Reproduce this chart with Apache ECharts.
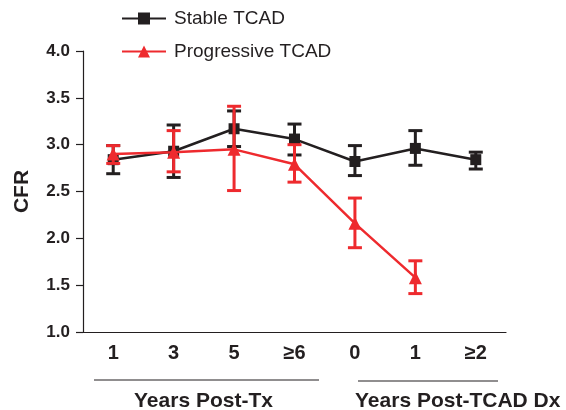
<!DOCTYPE html>
<html><head><meta charset="utf-8">
<script src="https://cdn.jsdelivr.net/npm/echarts@6/dist/echarts.min.js"></script>
<style>html,body{margin:0;padding:0;background:#fff}#c{width:566px;height:410px}</style>
</head><body><div id="c"></div>
<script>
const categories = ['1', '3', '5', '≥6', '0', '1', '≥2'];
const yTicks = [1.0, 1.5, 2.0, 2.5, 3.0, 3.5, 4.0];
const stableMean = [2.84, 2.93, 3.17, 3.06, 2.82, 2.96, 2.84];
const stableLow  = [2.69, 2.65, 2.98, 2.89, 2.67, 2.78, 2.74];
const stableHigh = [2.99, 3.21, 3.36, 3.22, 2.99, 3.15, 2.92];
const progMean = [2.90, 2.92, 2.95, 2.79, 2.16, 1.58, null];
const progLow  = [2.80, 2.71, 2.51, 2.60, 1.90, 1.41, null];
const progHigh = [2.99, 3.15, 3.41, 3.00, 2.43, 1.76, null];
const groupTitles = ['Years Post-Tx', 'Years Post-TCAD Dx'];

const BLACK = '#231f20', RED = '#ee2a2e';
const FONT = 'Liberation Sans, Arial, Helvetica, sans-serif';

function errData(low, high) {
  const out = [];
  for (let i = 0; i < low.length; i++) if (low[i] != null) out.push([i, low[i], high[i]]);
  return out;
}
function errSeries(name, low, high, color, z) {
  return {
    type: 'custom', name: name + ' err', z: z, silent: true,
    data: errData(low, high),
    encode: { x: 0, y: [1, 2] },
    renderItem: function (params, api) {
      const x = api.value(0);
      const lo = api.coord([x, api.value(1)]);
      const hi = api.coord([x, api.value(2)]);
      const w = 7;
      const st = { stroke: color, lineWidth: 3 };
      return { type: 'group', children: [
        { type: 'line', shape: { x1: lo[0], y1: lo[1], x2: hi[0], y2: hi[1] }, style: st },
        { type: 'line', shape: { x1: lo[0] - w, y1: lo[1], x2: lo[0] + w, y2: lo[1] }, style: st },
        { type: 'line', shape: { x1: hi[0] - w, y1: hi[1], x2: hi[0] + w, y2: hi[1] }, style: st }
      ]};
    }
  };
}

const chart = echarts.init(document.getElementById('c'), null, { renderer: 'canvas' });
chart.setOption({
  animation: false,
  textStyle: { fontFamily: FONT },
  grid: { left: 83, top: 51, width: 423, height: 281 },
  legend: {
    orient: 'vertical', left: 121, top: 9, padding: 0, itemWidth: 44, itemHeight: 15, itemGap: 14,
    data: ['Stable TCAD', 'Progressive TCAD'],
    textStyle: { fontSize: 19, color: BLACK, fontFamily: FONT, padding: [0, 0, 0, 3] }
  },
  xAxis: {
    type: 'category', data: categories, boundaryGap: true,
    axisLine: { lineStyle: { color: BLACK, width: 1.2 } },
    axisTick: { alignWithLabel: true, length: 7, lineStyle: { color: BLACK, width: 1.2 } },
    axisLabel: { fontSize: 20, fontWeight: 'bold', color: BLACK, margin: 11, fontFamily: FONT },
    splitLine: { show: false }
  },
  yAxis: {
    type: 'value', min: yTicks[0], max: yTicks[yTicks.length - 1], interval: 0.5,
    name: 'CFR', nameLocation: 'middle', nameGap: 50,
    nameTextStyle: { fontSize: 21, fontWeight: 'bold', color: BLACK, fontFamily: FONT },
    axisLine: { show: true, lineStyle: { color: BLACK, width: 1.2 } },
    axisTick: { show: true, length: 7, lineStyle: { color: BLACK, width: 1.2 } },
    axisLabel: { fontSize: 17, fontWeight: 'bold', color: BLACK, margin: 13, fontFamily: FONT,
      formatter: v => v.toFixed(1) },
    splitLine: { show: false }
  },
  series: [
    errSeries('Stable TCAD', stableLow, stableHigh, BLACK, 2),
    { name: 'Stable TCAD', type: 'line', data: stableMean, z: 3,
      symbol: 'rect', symbolSize: 11, itemStyle: { color: BLACK },
      lineStyle: { color: BLACK, width: 2.5 } },
    errSeries('Progressive TCAD', progLow, progHigh, RED, 4),
    { name: 'Progressive TCAD', type: 'line', data: progMean, z: 5, connectNulls: false,
      symbol: 'triangle', symbolSize: 13, itemStyle: { color: RED },
      lineStyle: { color: RED, width: 2.5 } }
  ],
  graphic: [
    { type: 'line', shape: { x1: 94, y1: 380, x2: 319, y2: 380 }, style: { stroke: BLACK, lineWidth: 1.2 } },
    { type: 'line', shape: { x1: 358, y1: 381, x2: 498, y2: 381 }, style: { stroke: BLACK, lineWidth: 1.2 } },
    { type: 'text', left: 134, top: 391, style: { text: groupTitles[0], font: 'bold 21px ' + FONT, fill: BLACK } },
    { type: 'text', left: 355, top: 391, style: { text: groupTitles[1], font: 'bold 21px ' + FONT, fill: BLACK } }
  ]
});
</script></body></html>
